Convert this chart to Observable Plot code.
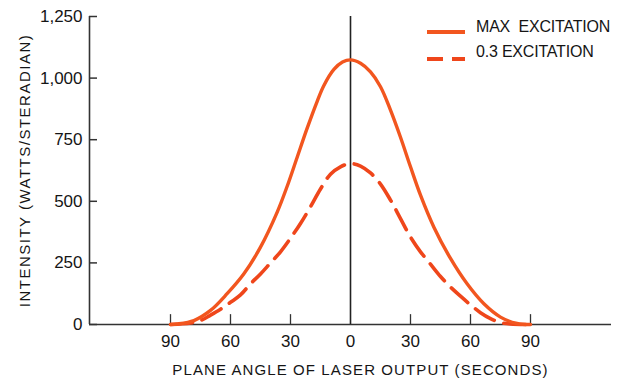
<!DOCTYPE html>
<html><head><meta charset="utf-8">
<script src="https://cdn.jsdelivr.net/npm/d3@7"></script>
<script src="https://cdn.jsdelivr.net/npm/@observablehq/plot@0.6"></script>
<style>
body{margin:0;background:#fff;}
#wrap{position:relative;width:624px;height:380px;font-family:"Liberation Sans",Arial,sans-serif;}
.lg{position:absolute;font-size:16px;color:#151515;white-space:pre;line-height:16px;letter-spacing:-0.2px;}
.sw{position:absolute;}
</style></head>
<body><div id="wrap"></div>
<script>
// ---- data ----
const maxAngle = [-90,-86.7,-78.3,-70,-61.7,-53.3,-45,-36.7,-31.7,-26.7,-21.7,-16.7,-13.3,-8.3,-4,0,5,10,15,20,25,30,35,41.7,50,58.3,66.7,75,83.3,90];
const maxIntensity = [0,2,16,57,125,206,314,455,560,678,796,905,970,1035,1065,1074,1060,1025,965,870,760,640,525,395,268,165,84,30,4,0];
const lowAngle = [-90,-80,-75,-70,-65,-60,-55,-50,-45,-40,-35,-30,-25,-20,-15,-10,-5,0,5,10,15,20,25,30,35,40,45,50,55,60,65,70,75,80,90];
const lowIntensity = [0,6,16,38,62,90,120,165,205,250,295,350,410,478,550,610,640,653,643,615,570,505,430,355,295,245,195,152,115,80,48,24,8,2,0];
const xTicks = [-90,-60,-30,0,30,60,90];
const yTicks = [0,250,500,750,1000,1250];
const seriesNames = ["MAX  EXCITATION","0.3 EXCITATION"];
const xLabel = "PLANE ANGLE OF LASER OUTPUT (SECONDS)";
const yLabel = "INTENSITY (WATTS/STERADIAN)";
const xDomain = [-130.5,130.5];
const yDomain = [0,1250];

const solidColor = "#f2561f";
const dashColor = "#ef461b";

const maxData = maxAngle.map((a,i)=>({a, v:maxIntensity[i]}));
const lowData = lowAngle.map((a,i)=>({a, v:lowIntensity[i]}));

const chart = Plot.plot({
  width: 624, height: 380,
  marginLeft: 89, marginRight: 13, marginTop: 16, marginBottom: 56,
  style: {fontFamily: '"Liberation Sans", Arial, sans-serif', fontSize: "17px", color: "#151515", background: "#fff"},
  x: {domain: xDomain},
  y: {domain: yDomain},
  marks: [
    Plot.axisX({ticks: xTicks, tickFormat: d => Math.abs(d), tickSize: 0, tickPadding: 10,
      label: xLabel, labelAnchor: "center", labelOffset: 50, labelArrow: false}),
    Plot.axisY({ticks: yTicks, tickFormat: d3.format(","), tickSize: 0, tickPadding: 7,
      label: yLabel, labelAnchor: "center", labelOffset: 70, labelArrow: false}),
    Plot.ruleX(xTicks.filter(d => d !== 0), {y1: 0, y2: 40, stroke: "#333", strokeWidth: 1.3}),
    Plot.ruleY(yTicks, {x1: xDomain[0], x2: xDomain[0] + 4, stroke: "#333", strokeWidth: 1.5}),
    Plot.ruleY([0], {stroke: "#333", strokeWidth: 1.6}),
    Plot.ruleX([xDomain[0]], {stroke: "#333", strokeWidth: 1.6}),
    Plot.ruleX([0], {stroke: "#222", strokeWidth: 1.6}),
    Plot.line(lowData, {x: "a", y: "v", stroke: dashColor, strokeWidth: 3.6, strokeDasharray: "22,10", curve: "catmull-rom"}),
    Plot.line(maxData, {x: "a", y: "v", stroke: solidColor, strokeWidth: 3.4, curve: "catmull-rom"})
  ]
});

d3.select(chart).selectAll('[aria-label="x-axis label"] text')
  .style("letter-spacing", "1.1px").style("font-size", "15px").attr("dx", 10);
d3.select(chart).selectAll('[aria-label="y-axis label"] text')
  .style("letter-spacing", "1.5px").style("font-size", "15px");

const wrap = document.getElementById("wrap");
wrap.appendChild(chart);

function addLegendRow(name, color, dash, textTop, lineY) {
  const sw = document.createElementNS("http://www.w3.org/2000/svg", "svg");
  sw.setAttribute("class", "sw");
  sw.setAttribute("width", 38); sw.setAttribute("height", 6);
  sw.style.left = "427px"; sw.style.top = (lineY - 3) + "px";
  sw.innerHTML = `<line x1="0" y1="3" x2="38" y2="3" stroke="${color}" stroke-width="4" ${dash ? `stroke-dasharray="${dash}"` : ""}/>`;
  wrap.appendChild(sw);
  const t = document.createElement("div");
  t.className = "lg";
  t.style.left = "476px"; t.style.top = textTop + "px";
  t.textContent = name;
  wrap.appendChild(t);
}
addLegendRow(seriesNames[0], solidColor, null, 19, 32);
addLegendRow(seriesNames[1], dashColor, "16,9", 44, 59);
</script>
</body></html>
